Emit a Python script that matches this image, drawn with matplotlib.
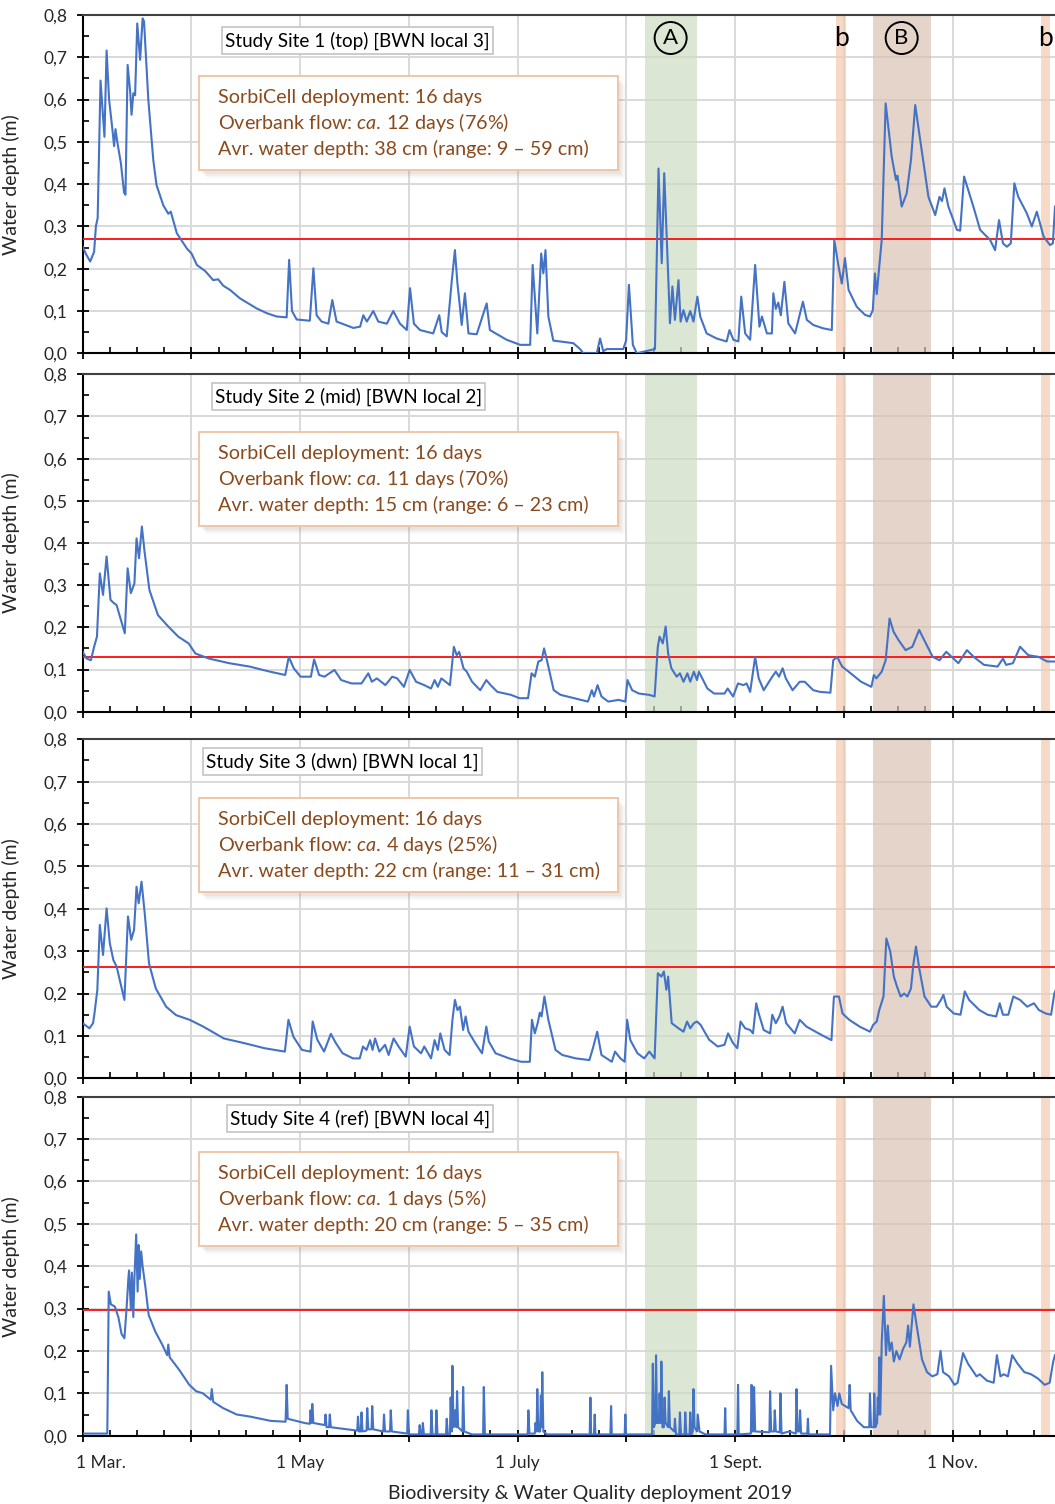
import matplotlib.pyplot as plt
from matplotlib.patches import Rectangle
from matplotlib.ticker import FixedLocator, MultipleLocator

plt.rcParams['font.family'] = ['Lato', 'DejaVu Sans']
plt.rcParams['mathtext.fontset'] = 'custom'
plt.rcParams['mathtext.rm'] = 'Lato'
plt.rcParams['mathtext.it'] = 'Lato:italic'

# water depth (m) per study site, x = days since 1 March 2019
site1_day = [0, 0.9, 2.1, 3.2, 3.7, 4.2, 5.0, 6.1, 6.7, 7.4, 8.4, 8.8, 9.2, 9.7, 10.7, 11.6, 12.0, 12.6, 13.3, 13.7,
             14.2, 14.7, 15.3, 16.1, 16.8, 17.2, 18.4, 19.8, 20.7, 22.6, 24.0, 24.7, 26.4, 29.2, 30.6, 32.0, 34.3, 36.6,
             38.0, 39.4, 41.3, 44.1, 48.8, 51.6, 54.4, 57.2, 57.9, 58.7, 60.0, 63.7, 64.7, 65.6, 67.0, 68.9, 70.0, 71.2,
             75.9, 77.8, 78.7, 79.7, 81.5, 82.9, 85.3, 87.1, 89.0, 90.9, 91.8, 92.9, 94.6, 98.3, 100.0, 100.7, 102.1,
             103.5, 104.4, 105.1, 105.6, 106.3, 107.2, 108.2, 110.5, 113.3, 114.2, 118.9, 122.7, 125.5, 126.2, 127.5,
             128.6, 129.2, 129.8, 130.6, 132.0, 137.6, 139.5, 140.4, 144.2, 145.1, 146.0, 147.0, 151.6, 152.4, 153.2,
             154.3, 155.4, 160.5, 161.5, 162.4, 163.1, 164.3, 164.7, 165.4, 166.1, 167.1, 167.7, 168.5, 169.4, 170.4,
             171.3, 172.4, 173.2, 175.0, 177.8, 180.6, 181.4, 182.5, 183.9, 184.7, 185.8, 187.2, 188.6, 189.8, 190.5,
             191.9, 193.3, 193.7, 194.4, 195.1, 195.8, 196.8, 197.9, 199.8, 202.0, 203.1, 204.9, 207.7, 210.1, 210.8,
             212.0, 212.9, 213.8, 214.8, 217.1, 219.4, 220.8, 221.6, 222.2, 222.7, 223.4, 224.1, 225.2, 226.9, 228.1,
             228.5, 229.7, 231.1, 232.3, 233.5, 234.9, 237.2, 239.1, 240.3, 241.0, 241.7, 242.8, 245.2, 246.1, 247.2,
             249.8, 251.7, 254.5, 255.9, 257.0, 258.1, 259.2, 260.3, 261.3, 262.4, 264.8, 266.2, 267.6, 269.5, 271.3,
             272.1, 272.7]
site1_depth = [0.252, 0.235, 0.217, 0.24, 0.30, 0.32, 0.645, 0.512, 0.716, 0.60, 0.524, 0.49, 0.53, 0.50, 0.45, 0.38,
               0.375, 0.682, 0.62, 0.564, 0.615, 0.61, 0.78, 0.694, 0.792, 0.785, 0.60, 0.457, 0.398, 0.35, 0.33, 0.335,
               0.284, 0.248, 0.235, 0.209, 0.195, 0.173, 0.175, 0.16, 0.15, 0.13, 0.106, 0.095, 0.087, 0.085, 0.221,
               0.10, 0.08, 0.077, 0.201, 0.09, 0.075, 0.07, 0.126, 0.075, 0.06, 0.063, 0.09, 0.075, 0.10, 0.075, 0.07,
               0.10, 0.07, 0.055, 0.154, 0.07, 0.055, 0.047, 0.09, 0.05, 0.04, 0.17, 0.244, 0.165, 0.126, 0.067, 0.142,
               0.047, 0.045, 0.118, 0.055, 0.032, 0.02, 0.02, 0.209, 0.047, 0.236, 0.189, 0.244, 0.087, 0.03, 0.024,
               0.01, 0.0, 0.0, 0.035, 0.005, 0.01, 0.01, 0.03, 0.162, 0.02, 0.0, 0.01, 0.437, 0.213, 0.426, 0.165,
               0.071, 0.158, 0.079, 0.173, 0.075, 0.102, 0.075, 0.10, 0.075, 0.134, 0.087, 0.047, 0.035, 0.028, 0.055,
               0.032, 0.028, 0.134, 0.047, 0.032, 0.209, 0.063, 0.087, 0.047, 0.047, 0.142, 0.105, 0.12, 0.09, 0.169,
               0.071, 0.047, 0.122, 0.079, 0.067, 0.059, 0.055, 0.268, 0.205, 0.165, 0.225, 0.15, 0.11, 0.091, 0.087,
               0.102, 0.189, 0.14, 0.205, 0.268, 0.591, 0.465, 0.41, 0.42, 0.347, 0.378, 0.457, 0.587, 0.504, 0.37,
               0.327, 0.37, 0.36, 0.39, 0.347, 0.292, 0.29, 0.418, 0.347, 0.292, 0.268, 0.244, 0.315, 0.26, 0.252,
               0.26, 0.402, 0.37, 0.331, 0.30, 0.335, 0.276, 0.256, 0.26, 0.347]

site2_day = [0, 1.1, 2.3, 3.2, 4.0, 4.8, 5.7, 6.7, 7.8, 8.8, 9.5, 11.8, 12.6, 13.5, 14.5, 15.1, 15.8, 16.6, 17.3, 18.7,
             21.1, 24.0, 26.8, 29.7, 31.6, 35.4, 41.1, 46.8, 52.5, 56.8, 57.8, 59.2, 61.1, 64.0, 64.9, 66.3, 67.8, 70.6,
             72.5, 75.4, 78.2, 80.1, 81.1, 82.5, 84.9, 86.8, 88.2, 90.1, 91.7, 93.5, 95.8, 97.7, 98.7, 99.6, 100.6,
             103.0, 104.1, 104.9, 105.6, 106.8, 107.7, 109.2, 111.5, 113.2, 114.4, 116.3, 120.1, 122.5, 124.9, 125.9,
             126.8, 127.8, 128.7, 129.4, 130.2, 132.1, 134.0, 137.8, 141.7, 142.8, 143.4, 144.4, 145.5, 147.4, 150.3,
             152.2, 152.8, 154.1, 156.0, 158.9, 160.4, 161.3, 161.8, 162.7, 163.5, 164.2, 165.1, 166.6, 167.5, 168.5,
             169.6, 170.4, 171.4, 172.3, 172.8, 175.2, 177.1, 180.0, 180.9, 182.4, 183.8, 185.3, 186.2, 187.2, 188.6,
             189.6, 191.0, 193.4, 194.4, 195.3, 196.3, 197.2, 199.1, 201.1, 202.5, 204.9, 206.8, 209.7, 210.5, 211.6,
             213.0, 215.4, 218.3, 221.2, 221.9, 222.6, 224.1, 225.2, 226.3, 227.4, 228.8, 230.8, 232.7, 234.6, 236.0,
             238.4, 240.3, 242.2, 243.7, 245.6, 248.0, 249.9, 252.8, 256.6, 258.1, 259.0, 260.9, 262.9, 265.2, 268.1,
             270.5, 272.7]
site2_depth = [0.142, 0.126, 0.122, 0.154, 0.178, 0.328, 0.277, 0.368, 0.265, 0.257, 0.253, 0.186, 0.34, 0.281, 0.304,
               0.411, 0.364, 0.439, 0.383, 0.289, 0.229, 0.202, 0.178, 0.162, 0.138, 0.126, 0.115, 0.107, 0.095, 0.087,
               0.13, 0.103, 0.083, 0.083, 0.124, 0.087, 0.083, 0.099, 0.075, 0.067, 0.067, 0.091, 0.071, 0.079, 0.063,
               0.083, 0.079, 0.059, 0.099, 0.071, 0.063, 0.055, 0.075, 0.059, 0.079, 0.063, 0.154, 0.134, 0.142, 0.103,
               0.095, 0.071, 0.051, 0.075, 0.063, 0.047, 0.04, 0.032, 0.032, 0.091, 0.083, 0.119, 0.122, 0.15, 0.122,
               0.051, 0.04, 0.032, 0.024, 0.051, 0.036, 0.063, 0.036, 0.024, 0.028, 0.024, 0.075, 0.051, 0.043, 0.04,
               0.036, 0.154, 0.178, 0.162, 0.202, 0.138, 0.103, 0.083, 0.091, 0.071, 0.091, 0.071, 0.095, 0.075, 0.095,
               0.055, 0.043, 0.043, 0.055, 0.036, 0.067, 0.063, 0.067, 0.047, 0.13, 0.079, 0.051, 0.083, 0.095, 0.083,
               0.103, 0.079, 0.051, 0.071, 0.071, 0.051, 0.047, 0.045, 0.122, 0.13, 0.107, 0.091, 0.071, 0.059, 0.087,
               0.079, 0.095, 0.122, 0.221, 0.19, 0.17, 0.146, 0.154, 0.194, 0.17, 0.13, 0.122, 0.142, 0.13, 0.115,
               0.146, 0.13, 0.111, 0.107, 0.126, 0.111, 0.115, 0.154, 0.134, 0.13, 0.119, 0.119]

site3_day = [0, 1.9, 2.9, 3.3, 4.1, 4.8, 5.7, 6.7, 7.6, 8.6, 9.5, 11.7, 12.7, 13.6, 14.4, 15.1, 15.7, 16.5, 17.4, 18.6,
             20.5, 23.4, 26.2, 30.0, 33.8, 39.6, 45.3, 51.0, 56.7, 57.7, 59.1, 61.5, 63.9, 64.5, 65.8, 67.7, 69.6, 71.0,
             72.9, 75.8, 77.7, 78.6, 79.6, 80.6, 81.3, 82.0, 83.2, 84.8, 85.8, 87.2, 88.6, 90.6, 91.7, 92.9, 94.9, 95.8,
             97.7, 98.7, 99.6, 100.3, 101.5, 102.9, 103.7, 104.4, 105.1, 105.8, 106.7, 107.4, 108.2, 110.1, 112.0,
             113.2, 113.9, 115.8, 119.6, 123.0, 125.4, 126.0, 126.8, 127.6, 128.2, 128.7, 129.5, 130.6, 132.6, 134.5,
             138.3, 142.1, 143.1, 144.3, 145.5, 148.4, 149.3, 150.8, 152.0, 152.7, 153.6, 155.6, 157.5, 158.9, 160.4,
             161.3, 162.3, 163.0, 163.7, 164.2, 165.2, 167.1, 168.5, 169.5, 170.4, 171.4, 172.3, 173.3, 175.7, 178.1,
             180.0, 181.0, 182.4, 183.6, 184.5, 185.8, 187.2, 188.0, 188.9, 189.6, 191.0, 192.8, 193.4, 194.4, 195.4,
             196.3, 197.3, 199.7, 201.1, 203.0, 206.4, 210.0, 210.7, 212.1, 213.1, 215.0, 217.9, 220.8, 221.7, 222.7,
             223.4, 224.6, 225.4, 226.5, 227.5, 228.4, 229.4, 230.4, 231.3, 232.3, 233.0, 233.7, 234.7, 236.1, 238.0,
             239.5, 240.7, 241.4, 242.3, 244.3, 246.2, 247.4, 248.6, 251.5, 253.8, 256.2, 257.2, 258.1, 259.6, 261.0,
             262.9, 264.9, 266.8, 268.2, 270.1, 271.6, 272.5, 273.3]
site3_depth = [0.13, 0.118, 0.13, 0.153, 0.208, 0.362, 0.291, 0.401, 0.319, 0.279, 0.264, 0.185, 0.382, 0.327, 0.35,
               0.452, 0.413, 0.464, 0.389, 0.271, 0.212, 0.169, 0.149, 0.138, 0.122, 0.094, 0.083, 0.071, 0.063, 0.138,
               0.098, 0.067, 0.063, 0.134, 0.091, 0.063, 0.105, 0.083, 0.059, 0.047, 0.047, 0.075, 0.067, 0.09, 0.067,
               0.094, 0.063, 0.079, 0.055, 0.094, 0.075, 0.051, 0.122, 0.075, 0.059, 0.075, 0.047, 0.09, 0.067, 0.106,
               0.067, 0.055, 0.138, 0.185, 0.161, 0.169, 0.114, 0.146, 0.11, 0.083, 0.059, 0.122, 0.087, 0.059, 0.047,
               0.039, 0.039, 0.138, 0.106, 0.13, 0.155, 0.146, 0.193, 0.138, 0.067, 0.055, 0.047, 0.043, 0.071, 0.11,
               0.055, 0.039, 0.063, 0.047, 0.039, 0.138, 0.09, 0.059, 0.047, 0.063, 0.047, 0.248, 0.24, 0.252, 0.209,
               0.24, 0.13, 0.118, 0.11, 0.134, 0.118, 0.13, 0.134, 0.126, 0.091, 0.075, 0.079, 0.106, 0.083, 0.071,
               0.134, 0.118, 0.114, 0.106, 0.177, 0.153, 0.114, 0.106, 0.15, 0.13, 0.146, 0.169, 0.13, 0.106, 0.138,
               0.122, 0.106, 0.09, 0.193, 0.193, 0.153, 0.138, 0.122, 0.11, 0.126, 0.134, 0.161, 0.193, 0.33, 0.299,
               0.24, 0.216, 0.193, 0.2, 0.193, 0.212, 0.271, 0.311, 0.256, 0.193, 0.169, 0.169, 0.185, 0.197, 0.169,
               0.153, 0.15, 0.205, 0.185, 0.161, 0.15, 0.146, 0.177, 0.15, 0.15, 0.193, 0.185, 0.169, 0.177, 0.161,
               0.153, 0.15, 0.2, 0.216]

site4_day = [0, 5.2, 6.9, 7.3, 7.9, 9.0, 10.0, 10.9, 11.7, 12.3, 12.8, 13.0, 13.5, 13.8, 14.2, 14.5, 15.0, 15.4, 15.7,
             16.0, 16.4, 16.8, 17.6, 18.5, 20.4, 22.3, 23.7, 24.0, 24.4, 27.1, 29.9, 31.8, 33.7, 35.9, 36.2, 36.6, 39.4,
             43.2, 47.0, 52.7, 56.9, 57.2, 57.5, 62.2, 63.7, 63.9, 64.2, 64.4, 64.7, 67.9, 68.1, 68.4, 69.1, 69.3, 69.6,
             77.0, 77.2, 77.5, 78.0, 78.2, 78.5, 79.6, 79.8, 80.1, 81.0, 81.2, 81.5, 84.3, 84.5, 84.8, 86.2, 86.4, 86.7,
             91.0, 91.2, 91.5, 94.3, 94.5, 94.8, 95.2, 95.4, 95.7, 97.6, 97.8, 98.1, 99.0, 99.2, 99.5, 101.9, 102.1,
             102.4, 103.0, 103.2, 103.5, 103.7, 104.0, 104.5, 104.8, 105.0, 105.3, 106.5, 106.7, 107.0, 109.2, 112.3,
             112.5, 112.8, 124.8, 125.0, 125.3, 126.8, 127.0, 127.3, 127.5, 127.8, 128.3, 128.5, 128.7, 128.9, 129.2,
             130.2, 142.2, 142.4, 142.6, 143.4, 143.6, 143.8, 148.0, 148.2, 148.4, 152.0, 152.2, 152.4, 159.7, 159.9,
             160.2, 160.6, 160.8, 161.1, 161.6, 161.8, 162.1, 162.3, 162.6, 163.0, 163.2, 163.5, 164.2, 164.4, 164.7,
             165.9, 166.1, 166.4, 167.3, 167.5, 167.8, 168.8, 169.0, 169.3, 170.2, 170.4, 170.7, 171.1, 171.3, 171.6,
             172.3, 172.5, 173.0, 174.7, 180.0, 180.2, 180.4, 183.6, 183.8, 184.0, 187.4, 187.6, 187.9, 188.1, 188.3,
             188.6, 192.6, 192.8, 193.1, 193.9, 194.1, 194.4, 195.5, 195.7, 196.0, 198.1, 200.0, 200.2, 200.5, 201.0,
             201.2, 201.5, 203.2, 203.4, 203.6, 209.6, 209.9, 210.5, 211.0, 211.7, 212.2, 212.9, 214.8, 215.1, 215.4,
             217.2, 219.1, 220.6, 220.8, 221.1, 221.8, 222.0, 222.3, 222.8, 223.0, 223.2, 223.4, 223.7, 224.1, 224.7,
             225.3, 225.8, 226.3, 226.9, 227.5, 228.2, 229.1, 230.1, 231.0, 231.5, 232.0, 233.0, 233.9, 235.4, 236.8,
             238.3, 239.7, 240.6, 241.3, 243.0, 244.5, 245.4, 246.9, 248.3, 250.7, 251.6, 253.6, 255.5, 256.4, 257.4,
             258.3, 259.5, 260.7, 262.2, 264.1, 266.0, 267.9, 269.8, 271.2, 272.2, 272.7]
site4_depth = [0.005, 0.005, 0.005, 0.34, 0.31, 0.305, 0.28, 0.24, 0.23, 0.30, 0.37, 0.39, 0.30, 0.385, 0.28, 0.37,
               0.475, 0.34, 0.45, 0.37, 0.435, 0.40, 0.35, 0.285, 0.245, 0.215, 0.19, 0.215, 0.185, 0.155, 0.12, 0.105,
               0.10, 0.085, 0.11, 0.08, 0.065, 0.05, 0.045, 0.035, 0.033, 0.12, 0.04, 0.03, 0.028, 0.06, 0.03, 0.075,
               0.03, 0.025, 0.05, 0.02, 0.02, 0.05, 0.02,
               0.012, 0.045, 0.01, 0.01, 0.055, 0.01, 0.012, 0.065, 0.015, 0.015, 0.07, 0.015, 0.01, 0.05, 0.01, 0.01,
               0.06, 0.01, 0.005, 0.06, 0.003, 0.003, 0.025, 0.003, 0.003, 0.03, 0.003, 0.003, 0.06, 0.003, 0.003,
               0.06, 0.003, 0.003, 0.04, 0.003, 0.003, 0.09, 0.01, 0.165, 0.02, 0.06, 0.02, 0.105, 0.02, 0.01, 0.115,
               0.01, 0.003, 0.003, 0.115, 0.003, 0.003, 0.06, 0.005, 0.005, 0.03, 0.01, 0.11, 0.01, 0.01, 0.095, 0.02,
               0.15, 0.01, 0.003, 0.003, 0.09, 0.003, 0.003, 0.05, 0.003, 0.003, 0.07, 0.003, 0.003, 0.05, 0.003,
               0.003, 0.17, 0.02, 0.03, 0.19, 0.03, 0.03, 0.10, 0.03, 0.175, 0.02, 0.02, 0.09, 0.03, 0.02, 0.105,
               0.02, 0.01, 0.04, 0.003, 0.003, 0.055, 0.003, 0.003, 0.055, 0.003, 0.003, 0.055, 0.003, 0.01, 0.11,
               0.02, 0.01, 0.05, 0.01, 0.003, 0.003, 0.065, 0.003, 0.003, 0.12, 0.003, 0.005, 0.12, 0.01, 0.01, 0.115,
               0.01, 0.008, 0.105, 0.01, 0.01, 0.06, 0.01, 0.008, 0.10, 0.005, 0.01, 0.005, 0.11, 0.01, 0.01, 0.06,
               0.005, 0.005, 0.04, 0.003, 0.003, 0.165, 0.06, 0.10, 0.07, 0.10, 0.075, 0.065, 0.12, 0.06, 0.035,
               0.02, 0.02, 0.10, 0.02, 0.02, 0.10, 0.02, 0.03, 0.09, 0.05, 0.185, 0.05, 0.22, 0.33, 0.19, 0.26, 0.20,
               0.22, 0.175, 0.20, 0.18, 0.205, 0.22, 0.26, 0.21, 0.31, 0.26, 0.18, 0.15, 0.14, 0.145, 0.20, 0.15,
               0.14, 0.12, 0.125, 0.195, 0.17, 0.14, 0.145, 0.13, 0.125, 0.19, 0.14, 0.145, 0.14, 0.19, 0.17, 0.15,
               0.145, 0.135, 0.12, 0.125, 0.175, 0.19]

site_days = [site1_day, site2_day, site3_day, site4_day]
site_depths = [site1_depth, site2_depth, site3_depth, site4_depth]
site_titles = ['Study Site 1 (top) [BWN local 3]', 'Study Site 2 (mid) [BWN local 2]',
               'Study Site 3 (dwn) [BWN local 1]', 'Study Site 4 (ref) [BWN local 4]']
overbank_level = [0.27, 0.13, 0.263, 0.297]
deploy_days = [16, 16, 16, 16]
overbank_days = [12, 11, 4, 1]
overbank_pct = [76, 70, 25, 5]
avg_depth_cm = [38, 15, 22, 20]
range_lo_cm = [9, 6, 11, 5]
range_hi_cm = [59, 23, 31, 35]

# sampling periods (days since 1 March)
period_a = (157.6, 172.2)
period_b = (221.6, 237.8)
periods_small_b = [(211.4, 214.0), (268.9, 271.4)]

tick_step = 30.5
tick_labels = ['1 Mar.', '', '1 May', '', '1 July', '', '1 Sept.', '', '1 Nov.']
depth_ticks = [k / 10 for k in range(9)]

W, H = 1055, 1504
fig = plt.figure(figsize=(W / 100, H / 100), dpi=100)

left_px = 82.7
x_max = 272.7
panel_px = [(15, 353.3), (374.3, 711.7), (739.3, 1078.3), (1096.7, 1435.7)]
title_px = [(222, 27, 271), (212, 383, 273), (203, 748, 279), (227, 1105, 266)]
info_top_px = [76, 432, 798, 1152]

blue = '#4472C4'
brown_txt = '#8a4a1c'
text_grey = '#262626'


def fx(px):
    return px / W


def fy(py):
    return 1 - py / H


def add_rect(x, y, w, h, **kw):
    fig.add_artist(Rectangle((fx(x), fy(y + h)), w / W, h / H, transform=fig.transFigure, **kw))


for i in range(4):
    top, bot = panel_px[i]
    ax = fig.add_axes([fx(left_px), fy(bot), (W - left_px) / W, (bot - top) / H])

    ax.axvspan(*period_a, color='#cddcc3', alpha=0.7, lw=0, zorder=1)
    ax.axvspan(*period_b, color='#d9c2b2', alpha=0.7, lw=0, zorder=1)
    for s, e in periods_small_b:
        ax.axvspan(s, e, color='#f3cbb0', alpha=0.7, lw=0, zorder=1)

    ax.axhline(overbank_level[i], color='#ff1a1a', lw=1.4, zorder=3)
    ax.plot(site_days[i], site_depths[i], color=blue, lw=1.5, zorder=4)

    ax.set_xlim(0, x_max)
    ax.set_ylim(0, 0.8)

    ax.xaxis.set_major_locator(FixedLocator([k * tick_step for k in range(9)]))
    ax.xaxis.set_minor_locator(MultipleLocator(tick_step / 4))
    ax.yaxis.set_major_locator(FixedLocator(depth_ticks))
    ax.yaxis.set_minor_locator(MultipleLocator(0.05))
    ax.set_yticklabels([f'{v:.1f}'.replace('.', ',') for v in depth_ticks])
    if i == 3:
        # first date label sits right of its tick
        ax.set_xticklabels([''] + tick_labels[1:])
        fig.text(fx(76), fy(1463), tick_labels[0], ha='left', va='center', fontsize=12.5, color=text_grey)
    else:
        ax.set_xticklabels([])

    ax.tick_params(which='major', direction='inout', length=8, width=1.3, labelsize=12.5, color='black',
                   labelcolor=text_grey)
    ax.tick_params(which='minor', direction='in', length=4, width=1.2, color='black')
    ax.tick_params(axis='y', which='major', pad=7)
    ax.tick_params(axis='x', which='major', pad=10)

    ax.set_axisbelow(True)
    ax.grid(which='major', color='#d9d9d9', lw=1.4)
    for side in ['left', 'bottom']:
        ax.spines[side].set_color('black')
        ax.spines[side].set_linewidth(1.5)
    ax.spines['top'].set_color('#404040')
    ax.spines['top'].set_linewidth(1.5)
    ax.spines['right'].set_visible(False)

    ax.set_ylabel('Water depth (m)', fontsize=14, color=text_grey)
    ax.yaxis.set_label_coords(-(left_px - 20) / (W - left_px), 0.5)

    if i == 0:
        for (s, e), lab in [(period_a, 'A'), (period_b, 'B')]:
            ax.text((s + e) / 2, 0.932, lab, transform=ax.get_xaxis_transform(), ha='center', va='center',
                    fontsize=16, zorder=6,
                    bbox=dict(boxstyle='circle,pad=0.27', fc='none', ec='black', lw=1.4))
        for s, e in periods_small_b:
            ax.text((s + e) / 2, 0.932, 'b', transform=ax.get_xaxis_transform(), ha='center', va='center',
                    fontsize=19, zorder=6)

    # site name box
    tx, ty, tw = title_px[i]
    add_rect(tx, ty, tw, 27, fc='white', ec='#c4c4c4', lw=1.2, zorder=5)
    fig.text(fx(tx + tw / 2), fy(ty + 19.5), site_titles[i], ha='center', va='baseline', fontsize=13.6, zorder=6)

    # summary box with soft shadow
    bt = info_top_px[i]
    for k, a in [(7, 0.05), (5, 0.07), (3, 0.09)]:
        add_rect(199 + k, bt + k + 1, 419, 94, fc='#8c7a70', ec='none', alpha=a, zorder=5)
    add_rect(199, bt, 419, 94, fc='white', ec='#f0c2a0', lw=1.3, zorder=5)
    lines = [f'SorbiCell deployment: {deploy_days[i]} days',
             f'Overbank flow: $\\mathit{{ca.}}\\,$' + f'{overbank_days[i]} days ({overbank_pct[i]}%)',
             f'Avr. water depth: {avg_depth_cm[i]} cm (range: {range_lo_cm[i]} \u2013 {range_hi_cm[i]} cm)']
    for j, line in enumerate(lines):
        fig.text(fx(218), fy(bt + 27 + j * 26), line, ha='left', va='baseline', fontsize=14.2,
                 color=brown_txt, zorder=6)

fig.text(fx(590), fy(1493), 'Biodiversity & Water Quality deployment 2019', ha='center', va='center',
         fontsize=14, color=text_grey)

fig.savefig('out.png', dpi=100)
